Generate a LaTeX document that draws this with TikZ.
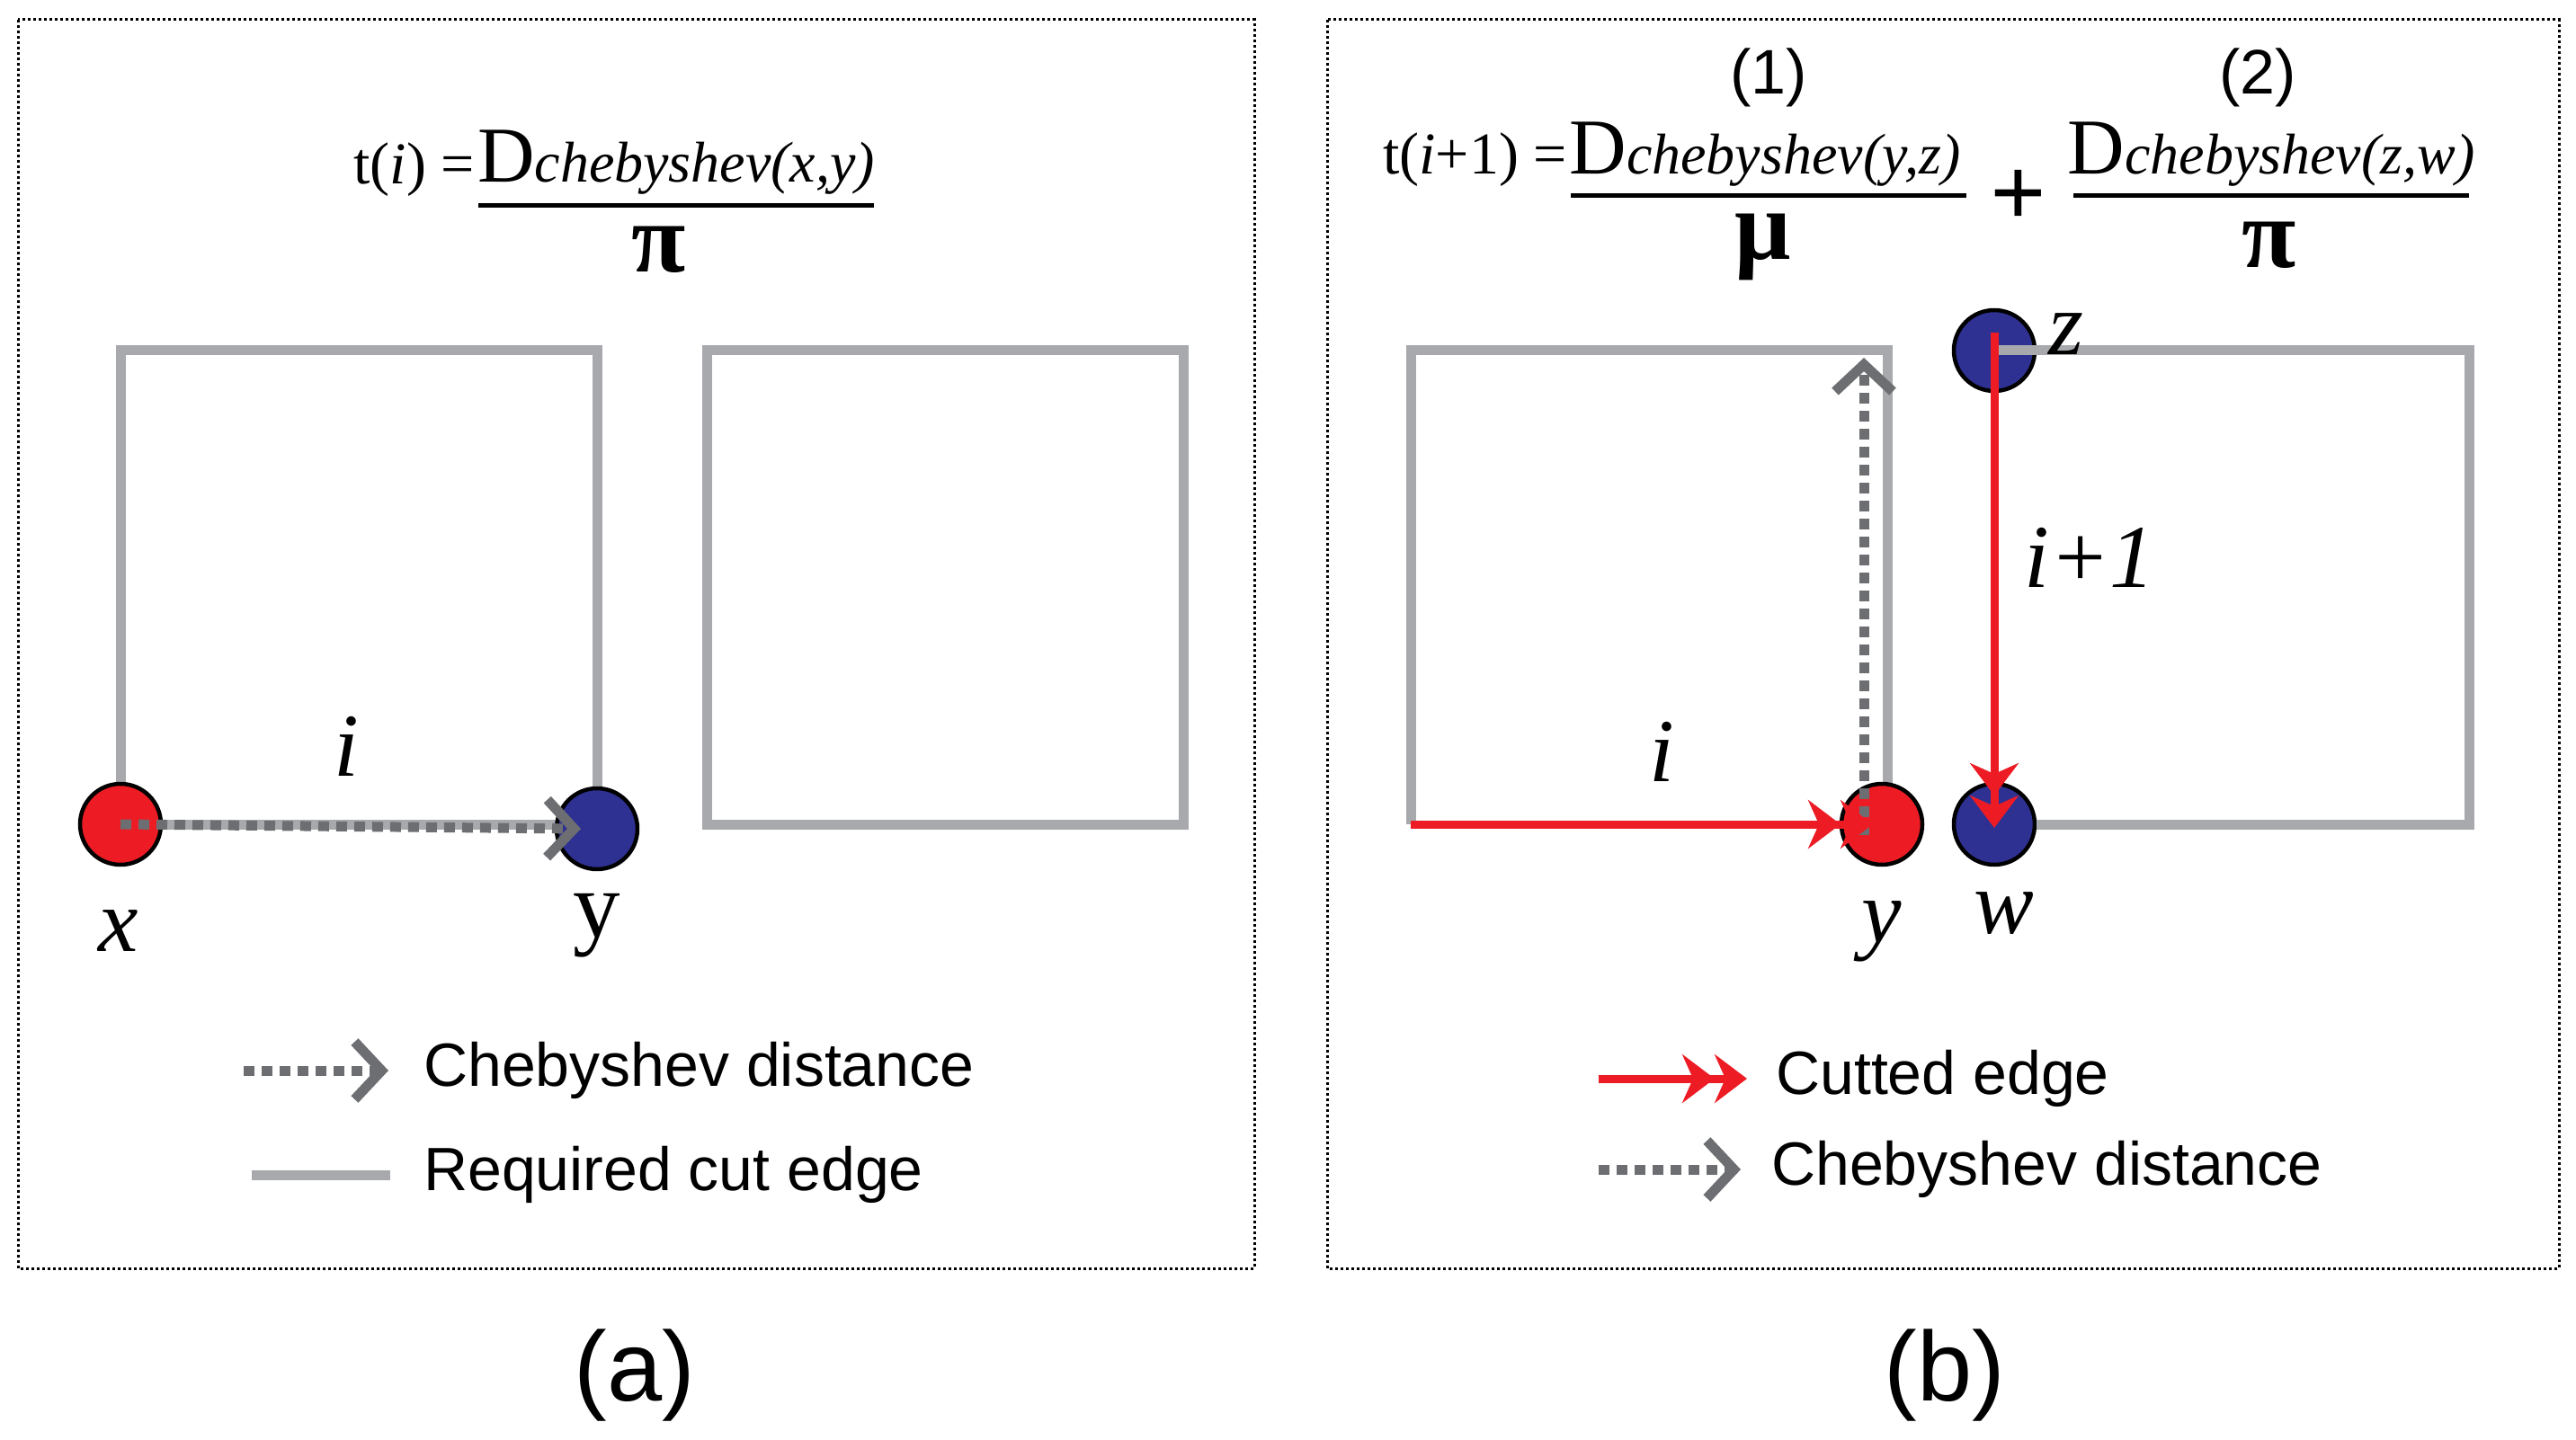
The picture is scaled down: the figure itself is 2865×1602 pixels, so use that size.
\documentclass[tikz,border=0pt]{standalone}
\usepackage{fontspec}
\setmainfont{Liberation Serif}
\newfontfamily\sansf{Liberation Sans}
\usetikzlibrary{arrows.meta}
\definecolor{sq}{HTML}{A7A9AC}
\definecolor{dg}{HTML}{6D6E71}
\definecolor{rd}{HTML}{ED1C24}
\definecolor{bl}{HTML}{2E3192}
\tikzset{
 sqline/.style={sq,line width=11pt},
 cheb/.style={dg,line width=11pt,dash pattern=on 12pt off 8pt,-{Straight Barb[length=30pt,width=64pt,line width=11pt]}},
 cut/.style={rd,line width=9pt,-{Stealth[length=36pt,width=54pt,inset=12pt]Stealth[length=36pt,width=54pt,inset=12pt]}},
 vtx/.style={circle,draw=black,line width=4.5pt,minimum size=90pt,inner sep=0pt},
 frame/.style={black,line width=3pt,dash pattern=on 3pt off 3pt},
 lab/.style={font=\fontsize{100}{100}\selectfont\itshape},
 leg/.style={font=\sansf\fontsize{68}{68}\selectfont,anchor=west,inner sep=0pt},
 sub/.style={font=\sansf\fontsize{110}{110}\selectfont},
 fml/.style={font=\fontsize{66}{66}\selectfont,inner sep=0pt},
 greek/.style={font=\fontsize{110}{110}\selectfont\bfseries}
}
\newcommand{\Dch}[1]{{\fontsize{88}{88}\selectfont D}{\fontsize{64}{64}\selectfont\itshape chebyshev(#1)}}
\begin{document}
\begin{tikzpicture}[x=1pt,y=-1pt]
\useasboundingbox (0,0) rectangle (2865,1602);
% frames
\draw[frame] (20,22) rectangle (1395,1411);
\draw[frame] (1476,22) rectangle (2846,1411);
\node[sub] (la) at (706,1530) {(a)};
\node[sub] (lb) at (2163,1530) {(b)};
% ---------- panel a
\draw[sqline] (134,917) -- (134,390) -- (664,390) -- (664,917) -- cycle;
\draw[sqline] (786,390) rectangle (1316,917);
\node[vtx,fill=rd] (xa) at (134,917) {};
\node[vtx,fill=bl] (ya) at (664,922) {};
\draw[cheb] (xa.center) -- ([xshift=-18pt]ya.center);
\node[lab] (ia) at (385,830) {i};
\node[lab] (xl) at (132,1036) {x};
\node[font=\fontsize{105}{105}\selectfont] (yl) at (664,1030) {y};
\node[fml,anchor=east] (ta) at (528,189) {t(\textit{i}) =};
\node[fml] (na) at (752,181) {\Dch{x,y}};
\draw[black,line width=5pt] (532,229) -- (972,229);
\node[greek] (pa) at (733,278) {π};
% legend a
\coordinate (l1s) at (271,1191); \coordinate (l1e) at (432,1191);
\draw[cheb] (l1s) -- (l1e);
\node[leg] (t1) at (471,1191) {Chebyshev distance};
\coordinate (l2s) at (280,1307); \coordinate (l2e) at (434,1307);
\draw[sqline] (l2s) -- (l2e);
\node[leg] (t2) at (471,1307) {Required cut edge};
% ---------- panel b
\draw[sqline] (1569,917) -- (1569,390) -- (2099,390) -- (2099,917);
\node[vtx,fill=rd] (yb) at (2093,917) {};
\node[vtx,fill=bl] (wb) at (2218,917) {};
\node[vtx,fill=bl] (zb) at (2218,390) {};
\draw[sqline] (wb.east) -- (2746,917) -- (2746,390) -- (zb.center);
\coordinate (c1) at (1569,917);
\coordinate (dtop) at (2073,398);
\draw[cheb] ([xshift=-20pt,yshift=-12pt]yb.center) -- (dtop);
\draw[cut] (c1) -- ([xshift=-10pt]yb.center);
\draw[cut] ([yshift=20pt]zb.center) -- ([yshift=-4pt]wb.center);
\node[lab] (ib) at (1848,836) {i};
\node[lab] (ib1) at (2324,620) {i+1};
\node[lab] (yl2) at (2093,1036) {y};
\node[lab] (wl) at (2229,1016) {w};
\node[lab] (zl) at (2298,372) {z};
\node[fml,anchor=east] (tb) at (1743,178) {t(\textit{i}+1) =};
\node[fml] (n1) at (1963,172) {\Dch{y,z}};
\draw[black,line width=5pt] (1747,218) -- (2187,218);
\node[greek] (mu) at (1961,275) {μ};
\node[font=\fontsize{110}{110}\selectfont\bfseries] (plus) at (2245,220) {+};
\node[fml] (n2) at (2526,172) {\Dch{z,w}};
\draw[black,line width=5pt] (2306,218) -- (2746,218);
\node[greek] (pb) at (2524,273) {π};
\node[font=\sansf\fontsize{70}{70}\selectfont] (o1) at (1967,86) {(1)};
\node[font=\sansf\fontsize{70}{70}\selectfont] (o2) at (2511,86) {(2)};
% legend b
\coordinate (m1s) at (1778,1200); \coordinate (m1e) at (1943,1200);
\draw[cut] (m1s) -- (m1e);
\node[leg] (u1) at (1975,1200) {Cutted edge};
\coordinate (m2s) at (1778,1301); \coordinate (m2e) at (1936,1301);
\draw[cheb] (m2s) -- (m2e);
\node[leg] (u2) at (1970,1301) {Chebyshev distance};
\end{tikzpicture}
\end{document}
